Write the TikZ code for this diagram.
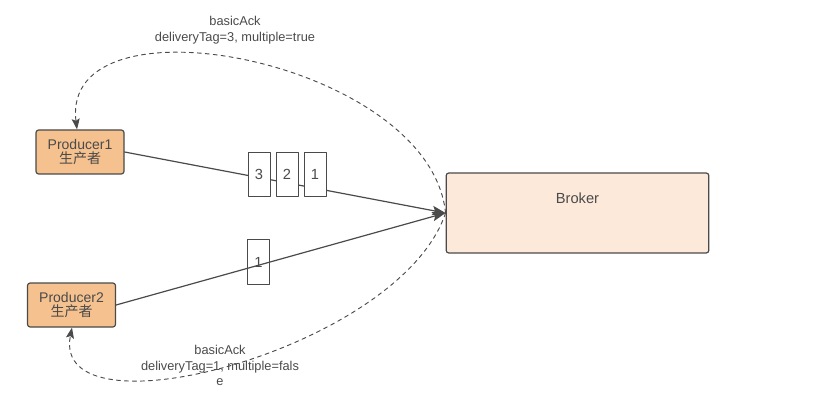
\documentclass[tikz,border=0pt]{standalone}
\usepackage{fontspec}
\usetikzlibrary{arrows.meta}
\setmainfont{Liberation Sans}
\newfontfamily\cjk{Noto Sans CJK SC}
\definecolor{edge}{HTML}{4A4A4A}
\definecolor{prodfill}{HTML}{F5C18F}
\definecolor{brokfill}{HTML}{FCE9DA}
\tikzset{
  producer/.style={draw=edge, fill=prodfill, rounded corners=2pt, line width=0.9pt,
    minimum width=66pt, minimum height=33pt, inner sep=0pt, align=center,
    font=\fontsize{10.5}{12}\selectfont, text=edge},
  brokerbox/.style={draw=edge, fill=brokfill, rounded corners=2pt, line width=0.9pt,
    minimum width=197pt, minimum height=60pt, inner sep=0pt},
  msg/.style={draw=edge, line width=0.7pt, minimum width=16.5pt, minimum height=33.5pt,
    inner sep=0pt, font=\fontsize{11}{12}\selectfont, text=edge},
  ackline/.style={-{Stealth[length=8pt, width=6pt, inset=1.5pt, fill=edge]}, dashed, edge, line width=0.7pt},
  sendline/.style={-{Stealth[length=10pt, width=7pt, inset=2pt, fill=edge]}, edge, line width=0.9pt},
  acklabel/.style={align=center, font=\fontsize{9.6}{11.6}\selectfont, text=edge}
}
\begin{document}
\begin{tikzpicture}[x=0.75pt, y=-0.75pt, line join=round, line cap=round]
  \useasboundingbox (0,0) rectangle (819,410);
  % producers and broker
  \node[producer] (p1) at (80,152) {Producer1\\[-1pt]{\cjk 生产者}};
  \node[producer] (p2) at (71.5,305) {Producer2\\[-1pt]{\cjk 生产者}};
  \node[brokerbox] (broker) at (577.5,213)
    [label={[anchor=center, yshift=-19.5pt, font=\fontsize{11}{12}\selectfont, text=edge]north:Broker}] {};
  % messages sent
  \draw[sendline] (p1.east) -- (broker.west);
  \draw[sendline] (p2.east) -- (broker.west);
  \foreach \n/\x in {3/259, 2/287, 1/315}
    \node[msg, fill=white] (m\n) at (\x,174.5) {\n};
  \node[msg] (q1) at (258.5,262) {1};
  % acks back
  \draw[ackline] (broker.west) .. controls (430,60) and (60,-10) .. (p1.north -| 77,0);
  \draw[ackline] (broker.west) .. controls (400,350) and (50,440) .. (p2.south -| 72,0);
  \node[acklabel] (ack1) at (235,30) {basicAck\\deliveryTag=3, multiple=true};
  \node[acklabel] (ack2) at (220,365.5) {basicAck\\deliveryTag=1, multiple=fals\\e};
\end{tikzpicture}
\end{document}
